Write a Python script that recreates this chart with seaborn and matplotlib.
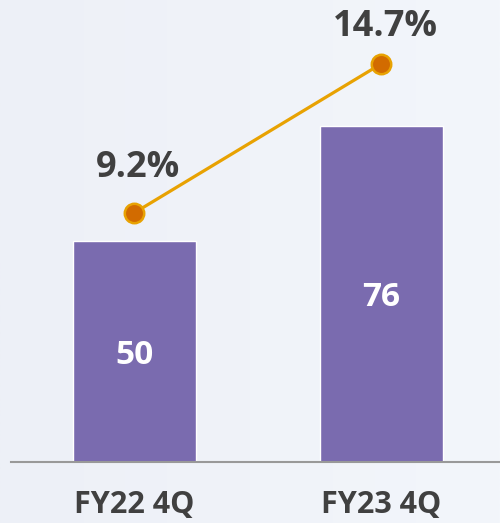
import matplotlib
matplotlib.use('Agg')

import matplotlib.pyplot as plt
import numpy as np
import pandas as pd
import seaborn as sns

# chart data
quarters = ['FY22 4Q', 'FY23 4Q']
bar_values = [50, 76]
pct_values = [9.2, 14.7]
pct_labels = ['9.2%', '14.7%']

BAR_COLOR = '#7A6BAF'
LINE_COLOR = '#E8A202'
MARKER_COLOR = '#D26B00'
TEXT_COLOR = '#404040'
BG_COLOR = '#F0F3F9'

sns.set_theme(style='white')
plt.rcParams['font.family'] = ['Open Sans', 'DejaVu Sans']

df = pd.DataFrame({'quarter': quarters, 'value': bar_values, 'pct': pct_values})

fig = plt.figure(figsize=(5.0, 5.23), dpi=100)
fig.patch.set_facecolor(BG_COLOR)

# soft left-to-right background gradient
bg = fig.add_axes([0, 0, 1, 1], zorder=-10)
grad = np.linspace(0, 1, 256).reshape(1, -1)
bg.imshow(grad, aspect='auto', extent=[0, 1, 0, 1],
          cmap=matplotlib.colors.LinearSegmentedColormap.from_list('bg', ['#EDF0F7', '#F3F6FB']))
bg.axis('off')

ax = fig.add_axes([11 / 500, 61 / 523, 489 / 500, 462 / 523])
ax.patch.set_alpha(0)

sns.barplot(data=df, x='quarter', y='value', color=BAR_COLOR, width=0.5,
            saturation=1, ax=ax)
ax.set_xlim(-0.5, 1.48)
ax.set_ylim(0, 104.5)

for patch, val in zip(ax.patches, bar_values):
    ax.text(patch.get_x() + patch.get_width() / 2, val / 2 - 0.9, str(val),
            ha='center', va='center', color='white', fontsize=24, fontweight='bold')

ax.set_xlabel('')
ax.set_ylabel('')
ax.set_yticks([])
ax.tick_params(axis='x', length=0, pad=20, labelsize=22, labelcolor=TEXT_COLOR)
for lbl in ax.get_xticklabels():
    lbl.set_fontweight('bold')
for side in ['top', 'right', 'left']:
    ax.spines[side].set_visible(False)
ax.spines['bottom'].set_color('#999999')
ax.spines['bottom'].set_linewidth(1.5)

ax2 = ax.twinx()
ax2.patch.set_alpha(0)
line_df = pd.DataFrame({'pos': range(len(quarters)), 'pct': pct_values})
sns.lineplot(data=line_df, x='pos', y='pct', ax=ax2, color=LINE_COLOR, linewidth=2.3,
             marker='o', markersize=14, markerfacecolor=MARKER_COLOR,
             markeredgecolor=LINE_COLOR, markeredgewidth=1.8)
ax2.set_ylim(0, 17.05)
ax2.set_yticks([])
ax2.set_ylabel('')
ax2.set_xlabel('')
for side in ['top', 'right', 'left', 'bottom']:
    ax2.spines[side].set_visible(False)

offsets = [1.65, 1.35]
for i, (p, lab) in enumerate(zip(pct_values, pct_labels)):
    ax2.text(i + 0.015, p + offsets[i], lab, ha='center', va='center',
             color=TEXT_COLOR, fontsize=26, fontweight='bold')

fig.savefig('out.png', dpi=100, facecolor=fig.get_facecolor())
